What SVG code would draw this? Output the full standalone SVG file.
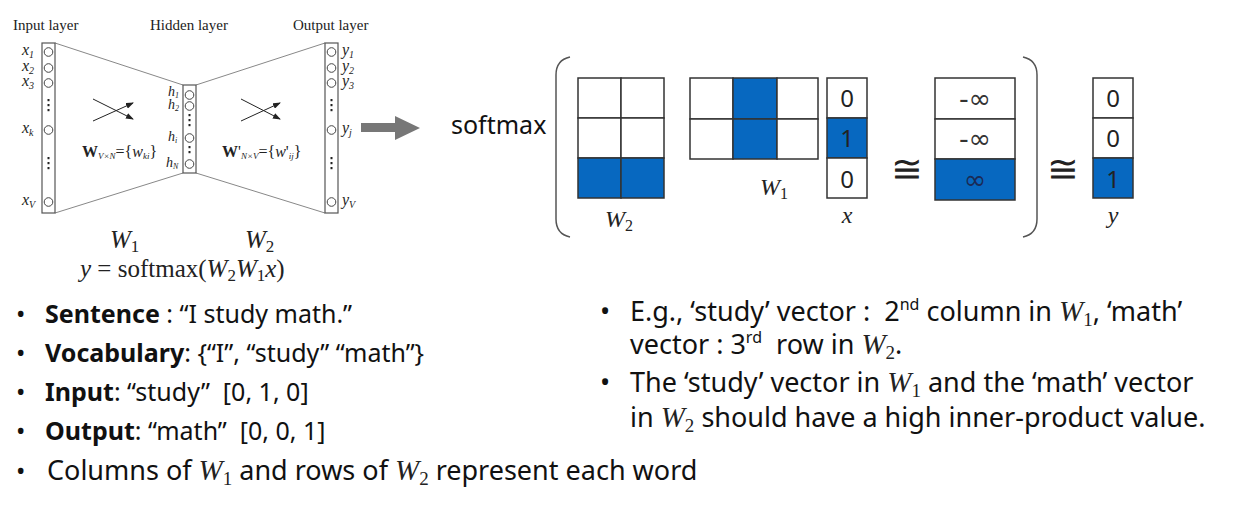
<svg xmlns="http://www.w3.org/2000/svg" width="1240" height="512" viewBox="0 0 1240 512">
<style>
.ser{font-family:"Liberation Serif","Times New Roman",serif;fill:#222}
.it{font-style:italic}
.sans{font-family:"Noto Sans","Open Sans",sans-serif;fill:#111}
.b{font-weight:bold}
.cell{fill:#fff;stroke:#333;stroke-width:1.5}
.blue{fill:#0768C0;stroke:#333;stroke-width:1.5}
.col{fill:#fff;stroke:#555;stroke-width:1.2}
.nd{fill:#fff;stroke:#444;stroke-width:1}
.edge{stroke:#888;stroke-width:1;fill:none}
.arr{stroke:#222;stroke-width:1;fill:none}
.dot{fill:#222}
.num{font-family:"Noto Sans","Open Sans",sans-serif;font-size:24px;fill:#222;text-anchor:middle}
.math{font-family:"Liberation Serif","Times New Roman",serif;fill:#222}
.inf{font-family:"DejaVu Sans",sans-serif;font-size:27px;text-anchor:middle}
</style>
<defs>
<marker id="ah" markerWidth="8" markerHeight="6" refX="7" refY="3" orient="auto" markerUnits="userSpaceOnUse">
<path d="M0,0 L8,3 L0,6 Z" fill="#222"/>
</marker>
</defs>
<rect width="1240" height="512" fill="#fff"/>

<g id="connectors">
<line class="edge" x1="55" y1="43" x2="183" y2="85"/>
<line class="edge" x1="55" y1="213" x2="183" y2="173"/>
<line class="edge" x1="196" y1="85" x2="325" y2="43"/>
<line class="edge" x1="196" y1="173" x2="325" y2="213"/>
<line class="arr" x1="93" y1="99" x2="133" y2="119" marker-end="url(#ah)"/>
<line class="arr" x1="93" y1="121" x2="133" y2="103" marker-end="url(#ah)"/>
<line class="arr" x1="241" y1="99" x2="280" y2="119" marker-end="url(#ah)"/>
<line class="arr" x1="241" y1="121" x2="280" y2="103" marker-end="url(#ah)"/>
<path d="M361,123 H395 V116 L420,128 L395,140 V132 H361 Z" fill="#777"/>
</g>

<g id="layer-titles" class="ser" font-size="15">
<text x="13" y="30">Input layer</text>
<text x="150" y="30">Hidden layer</text>
<text x="293" y="30">Output layer</text>
</g>

<g id="input-layer">
<rect class="col" x="42" y="43" width="13" height="170"/>
<circle class="nd" cx="48.5" cy="52" r="4.3"/>
<circle class="nd" cx="48.5" cy="68" r="4.3"/>
<circle class="nd" cx="48.5" cy="83" r="4.3"/>
<circle class="nd" cx="48.5" cy="130" r="4.3"/>
<circle class="nd" cx="48.5" cy="202" r="4.3"/>
<rect class="dot" x="47.5" y="99" width="2" height="2.2"/><rect class="dot" x="47.5" y="104" width="2" height="2.2"/><rect class="dot" x="47.5" y="109" width="2" height="2.2"/>
<rect class="dot" x="47.5" y="157" width="2" height="2.2"/><rect class="dot" x="47.5" y="162" width="2" height="2.2"/><rect class="dot" x="47.5" y="167" width="2" height="2.2"/>
<g class="ser it" font-size="16">
<text x="22" y="55">x<tspan font-size="10" dy="3">1</tspan></text>
<text x="22" y="71">x<tspan font-size="10" dy="3">2</tspan></text>
<text x="22" y="86">x<tspan font-size="10" dy="3">3</tspan></text>
<text x="22" y="133">x<tspan font-size="10" dy="3">k</tspan></text>
<text x="22" y="205">x<tspan font-size="10" dy="3">V</tspan></text>
</g>
</g>

<g id="hidden-layer">
<rect class="col" x="183" y="85" width="13" height="88"/>
<circle class="nd" cx="189.5" cy="95" r="4.3"/>
<circle class="nd" cx="189.5" cy="106" r="4.3"/>
<circle class="nd" cx="189.5" cy="138" r="4.3"/>
<circle class="nd" cx="189.5" cy="164" r="4.3"/>
<rect class="dot" x="188.5" y="114" width="2" height="2.2"/><rect class="dot" x="188.5" y="119" width="2" height="2.2"/><rect class="dot" x="188.5" y="124" width="2" height="2.2"/>
<rect class="dot" x="188.5" y="146" width="2" height="2.2"/><rect class="dot" x="188.5" y="151" width="2" height="2.2"/>
<g class="ser it" font-size="14">
<text x="168" y="96">h<tspan font-size="8" dy="2">1</tspan></text>
<text x="168" y="109">h<tspan font-size="8" dy="2">2</tspan></text>
<text x="168" y="141">h<tspan font-size="8" dy="2">i</tspan></text>
<text x="166" y="167">h<tspan font-size="8" dy="2">N</tspan></text>
</g>
</g>

<g id="output-layer">
<rect class="col" x="325" y="43" width="13" height="170"/>
<circle class="nd" cx="331.5" cy="52" r="4.3"/>
<circle class="nd" cx="331.5" cy="68" r="4.3"/>
<circle class="nd" cx="331.5" cy="83" r="4.3"/>
<circle class="nd" cx="331.5" cy="130" r="4.3"/>
<circle class="nd" cx="331.5" cy="202" r="4.3"/>
<rect class="dot" x="330.5" y="99" width="2" height="2.2"/><rect class="dot" x="330.5" y="104" width="2" height="2.2"/><rect class="dot" x="330.5" y="109" width="2" height="2.2"/>
<rect class="dot" x="330.5" y="157" width="2" height="2.2"/><rect class="dot" x="330.5" y="162" width="2" height="2.2"/><rect class="dot" x="330.5" y="167" width="2" height="2.2"/>
<g class="ser it" font-size="16">
<text x="342" y="55">y<tspan font-size="10" dy="3">1</tspan></text>
<text x="342" y="71">y<tspan font-size="10" dy="3">2</tspan></text>
<text x="342" y="86">y<tspan font-size="10" dy="3">3</tspan></text>
<text x="342" y="133">y<tspan font-size="10" dy="3">j</tspan></text>
<text x="342" y="205">y<tspan font-size="10" dy="3">V</tspan></text>
</g>
</g>

<g id="weight-labels" class="ser" font-size="16">
<text x="82" y="157"><tspan font-weight="bold">W</tspan><tspan class="it" font-size="9" dy="2">V×N</tspan><tspan dy="-2">={</tspan><tspan class="it">w</tspan><tspan class="it" font-size="9" dy="2">ki</tspan><tspan dy="-2">}</tspan></text>
<text x="222" y="157"><tspan font-weight="bold">W</tspan><tspan>'</tspan><tspan class="it" font-size="9" dy="2">N×V</tspan><tspan dy="-2">={</tspan><tspan class="it">w</tspan><tspan>'</tspan><tspan class="it" font-size="9" dy="2">ij</tspan><tspan dy="-2">}</tspan></text>
</g>

<g id="formula" class="math" font-size="25">
<text x="110" y="248"><tspan class="it">W</tspan><tspan font-size="17" dy="4">1</tspan></text>
<text x="245" y="248"><tspan class="it">W</tspan><tspan font-size="17" dy="4">2</tspan></text>
<text x="80" y="277"><tspan class="it">y</tspan> = softmax(<tspan class="it">W</tspan><tspan font-size="17" dy="4">2</tspan><tspan class="it" dy="-4">W</tspan><tspan font-size="17" dy="4">1</tspan><tspan class="it" dy="-4">x</tspan>)</text>
</g>

<g id="softmax-label">
<text class="sans" x="451" y="134" font-size="25" fill="#222">softmax</text>
<path d="M570,57 Q556,60 556,75 V219 Q556,234 570,237" fill="none" stroke="#555" stroke-width="1.5"/>
<path d="M1023,57 Q1037,60 1037,75 V219 Q1037,234 1023,237" fill="none" stroke="#555" stroke-width="1.5"/>
</g>

<g id="matrix-W2">
<rect class="cell" x="578" y="78" width="43" height="40"/>
<rect class="cell" x="621" y="78" width="43" height="40"/>
<rect class="cell" x="578" y="118" width="43" height="40"/>
<rect class="cell" x="621" y="118" width="43" height="40"/>
<rect class="blue" x="578" y="158" width="43" height="40"/>
<rect class="blue" x="621" y="158" width="43" height="40"/>
<text class="math" x="605" y="227" font-size="24"><tspan class="it">W</tspan><tspan font-size="16" dy="4">2</tspan></text>
</g>

<g id="matrix-W1">
<rect class="cell" x="690" y="78" width="43" height="41"/>
<rect class="blue" x="733" y="78" width="44" height="41"/>
<rect class="cell" x="777" y="78" width="41" height="41"/>
<rect class="cell" x="690" y="119" width="43" height="40"/>
<rect class="blue" x="733" y="119" width="44" height="40"/>
<rect class="cell" x="777" y="119" width="41" height="40"/>
<text class="math" x="760" y="195" font-size="24"><tspan class="it">W</tspan><tspan font-size="16" dy="4">1</tspan></text>
</g>

<g id="vector-x">
<rect class="cell" x="827" y="78" width="40" height="40"/>
<rect class="blue" x="827" y="118" width="40" height="40"/>
<rect class="cell" x="827" y="158" width="40" height="40"/>
<text class="num" x="847" y="107">0</text>
<text class="num" x="847" y="147">1</text>
<text class="num" x="847" y="188">0</text>
<text class="math it" x="847" y="223" font-size="24" text-anchor="middle">x</text>
</g>

<g id="approx-1"><text class="math" x="907" y="182" font-size="38" text-anchor="middle">≅</text></g>

<g id="vector-result">
<rect class="cell" x="935" y="78" width="80" height="41"/>
<rect class="cell" x="935" y="119" width="80" height="40"/>
<rect class="blue" x="935" y="159" width="80" height="41"/>
<text class="inf" x="975" y="108" fill="#333">-∞</text>
<text class="inf" x="975" y="148" fill="#333">-∞</text>
<text class="inf" x="975" y="189" fill="#1a2a55">∞</text>
</g>

<g id="approx-2"><text class="math" x="1063" y="182" font-size="38" text-anchor="middle">≅</text></g>

<g id="vector-y">
<rect class="cell" x="1093" y="78" width="40" height="40"/>
<rect class="cell" x="1093" y="118" width="40" height="40"/>
<rect class="blue" x="1093" y="158" width="40" height="40"/>
<text class="num" x="1113" y="107">0</text>
<text class="num" x="1113" y="147">0</text>
<text class="num" x="1113" y="188">1</text>
<text class="math it" x="1113" y="223" font-size="24" text-anchor="middle">y</text>
</g>

<g id="left-bullets" class="sans" font-size="25">
<text x="16" y="323">•</text>
<text x="45" y="323"><tspan class="b">Sentence</tspan> : “I study math.”</text>
<text x="16" y="362">•</text>
<text x="45" y="362"><tspan class="b">Vocabulary</tspan>: {“I”, “study” “math”}</text>
<text x="16" y="401">•</text>
<text x="45" y="401" xml:space="preserve"><tspan class="b">Input</tspan>: “study”  [0, 1, 0]</text>
<text x="16" y="440">•</text>
<text x="45" y="440" xml:space="preserve"><tspan class="b">Output</tspan>: “math”  [0, 0, 1]</text>
<text x="16" y="480">•</text>
<text x="47" y="480" font-size="27">Columns of <tspan class="math it" font-size="29">W</tspan><tspan class="math" font-size="19" dy="5">1</tspan><tspan dy="-5"> and rows of </tspan><tspan class="math it" font-size="29">W</tspan><tspan class="math" font-size="19" dy="5">2</tspan><tspan dy="-5"> represent each word</tspan></text>
</g>

<g id="right-bullets" class="sans" font-size="27">
<text x="600" y="321">•</text>
<text x="630" y="321" xml:space="preserve">E.g., ‘study’ vector :  2<tspan font-size="16" dy="-11">nd</tspan><tspan dy="11"> column in </tspan><tspan class="math it" font-size="29">W</tspan><tspan class="math" font-size="19" dy="5">1</tspan><tspan dy="-5">, ‘math’</tspan></text>
<text x="630" y="354" xml:space="preserve">vector : 3<tspan font-size="16" dy="-11">rd</tspan><tspan dy="11">  row in </tspan><tspan class="math it" font-size="29">W</tspan><tspan class="math" font-size="19" dy="5">2</tspan><tspan dy="-5">.</tspan></text>
<text x="600" y="392">•</text>
<text x="630" y="392">The ‘study’ vector in <tspan class="math it" font-size="29">W</tspan><tspan class="math" font-size="19" dy="5">1</tspan><tspan dy="-5"> and the ‘math’ vector</tspan></text>
<text x="630" y="427">in <tspan class="math it" font-size="29">W</tspan><tspan class="math" font-size="19" dy="5">2</tspan><tspan dy="-5"> should have a high inner-product value.</tspan></text>
</g>
</svg>
